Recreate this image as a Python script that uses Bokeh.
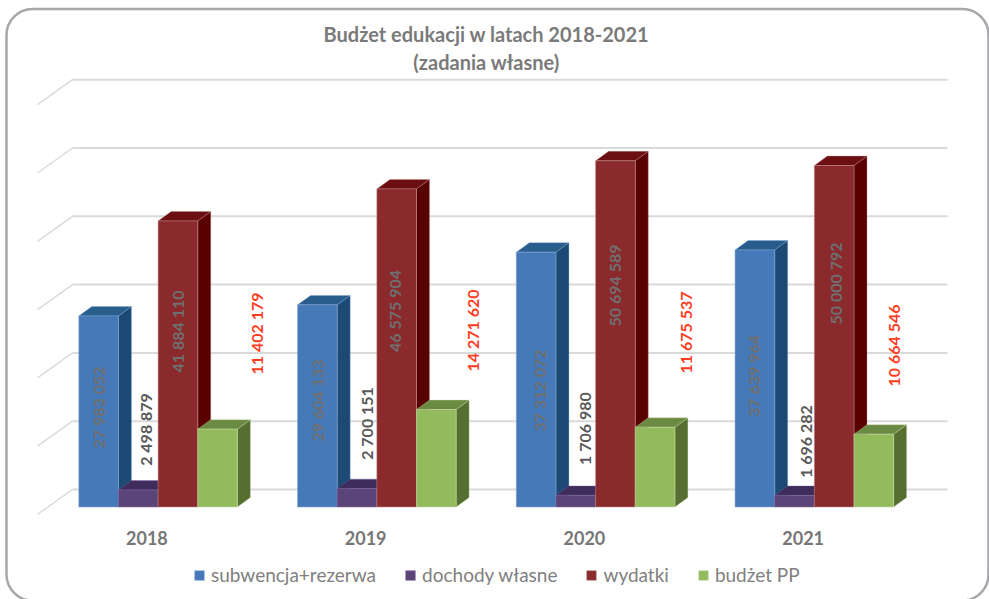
from math import pi
from bokeh.plotting import figure
from bokeh.embed import file_html
from bokeh.resources import INLINE
from bokeh.core.properties import value
from bokeh.models import (BoxAnnotation, ColumnDataSource, Legend,
                          LegendItem, Range1d)

# ---------- data ----------
years = ["2018", "2019", "2020", "2021"]
subwencja = [27983052, 29604133, 37312072, 37639964]
dochody = [2498879, 2700151, 1706980, 1696282]
wydatki = [41884110, 46575904, 50694589, 50000792]
budzet = [11402179, 14271620, 11675537, 10664546]
grid_ticks = [0, 10e6, 20e6, 30e6, 40e6, 50e6, 60e6]
title_lines = ["Budżet edukacji w latach 2018-2021", "(zadania własne)"]
series_names = ["subwencja+rezerwa", "dochody własne", "wydatki", "budżet PP"]

# ---------- style ----------
fronts = ["#4679B8", "#5B4478", "#8B2A2C", "#93BB5E"]
sides = ["#1C4A75", "#33204F", "#590000", "#566E2F"]
tops = ["#285D8C", "#3F2C5C", "#6C0F12", "#6B8A42"]
edges = ["#7FA5D6", "#7B66A0", "#C08A8A", "#C4D8A8"]
label_colors = ["#6F6F6F", "#595959", "#6F6F6F", "#FF3D1F"]

W, H = 989, 599
PX_X = 218.75          # pixels per category
PX_Y = 68.3 / 10e6     # pixels per unit of value
BACK_X, BACK_Y = 72, 489

BAR_W = 39.65 / PX_X
BAR_X0 = 6.3 / PX_X
FLOOR_DROP = 17.5 / PX_Y     # front face baseline below the back wall's zero
DEPTH_X = 13 / PX_X
DEPTH_Y = 9.4 / PX_Y
WALL_X = 35 / PX_X
WALL_Y = 25 / PX_Y
TITLE_X = (486 - BACK_X) / PX_X
TITLE_Y = [(BACK_Y - 33) / PX_Y, (BACK_Y - 61) / PX_Y]
YEAR_Y = (BACK_Y - 537) / PX_Y

# label centres: (category offset, value above the bar floor)
label_x = [[0.119, 1.120, 2.135, 3.115], [0.334, 1.344, 2.341, 3.351],
           [0.480, 1.472, 2.478, 3.488], [0.841, 1.829, 2.802, 3.753]]
label_y = [[14.57e6, 15.59e6, 17.06e6, 19.18e6], [11.35e6, 12.23e6, 11.49e6, 9.59e6],
           [25.7e6, 28.7e6, 32.43e6, 32.72e6], [25.4e6, 25.84e6, 25.55e6, 23.65e6]]

p = figure(
    width=W, height=H, output_backend="svg", toolbar_location=None,
    x_range=Range1d(-BACK_X / PX_X, (W - BACK_X) / PX_X),
    y_range=Range1d((BACK_Y - H) / PX_Y, BACK_Y / PX_Y),
    min_border=0, outline_line_color=None,
    x_axis_type=None, y_axis_type=None, background_fill_color="white",
)
p.grid.visible = False

# card outline
p.add_layout(BoxAnnotation(left=(6 - BACK_X) / PX_X, right=(988 - BACK_X) / PX_X,
                           top=(BACK_Y - 8.5) / PX_Y, bottom=(BACK_Y - 600) / PX_Y,
                           fill_color="white", fill_alpha=0,
                           line_color="#A6A8AC", line_alpha=1, line_width=2.5,
                           border_radius=26, level="underlay"))

# title
p.text([TITLE_X] * 2, TITLE_Y, text=title_lines, text_align="center", text_baseline="middle",
       text_font=value("Lato"), text_font_size="20px", text_font_style="bold",
       text_color="#7A7A7A")

# gridlines: back wall and left wall
back_x = [[0, len(years)] for _ in grid_ticks]
back_y = [[t, t] for t in grid_ticks]
p.multi_line(back_x, back_y, line_color="#DADADA", line_width=2)
wall_x = [[0, -WALL_X] for _ in grid_ticks]
wall_y = [[t, t - WALL_Y] for t in grid_ticks]
p.multi_line(wall_x, wall_y, line_color="#DADADA", line_width=1.5)

# 3-D bars
all_series = [subwencja, dochody, wydatki, budzet]
legend_items = []
for s, values in enumerate(all_series):
    left = [i + BAR_X0 + s * BAR_W for i in range(len(years))]
    right = [l + BAR_W for l in left]
    floor = [-FLOOR_DROP] * len(values)
    top = [v - FLOOR_DROP for v in values]
    side_x = [[r, r + DEPTH_X, r + DEPTH_X, r] for r in right]
    side_y = [[b, b + DEPTH_Y, t + DEPTH_Y, t] for b, t in zip(floor, top)]
    top_x = [[l, l + DEPTH_X, r + DEPTH_X, r] for l, r in zip(left, right)]
    top_y = [[t, t + DEPTH_Y, t + DEPTH_Y, t] for t in top]
    p.patches(side_x, side_y, fill_color=sides[s], line_color=edges[s], line_alpha=0.45, line_width=0.8)
    p.patches(top_x, top_y, fill_color=tops[s], line_color=edges[s], line_alpha=0.45, line_width=0.8)
    front = p.quad(left=left, right=right, bottom=floor, top=top, fill_color=fronts[s],
                   line_color=edges[s], line_alpha=0.55, line_width=1)
    legend_items.append(LegendItem(label=series_names[s], renderers=[front]))

# value labels
for s, values in enumerate(all_series):
    src = ColumnDataSource(dict(
        x=label_x[s],
        y=[v - FLOOR_DROP for v in label_y[s]],
        t=[f"{v:,}".replace(",", " ") for v in values],
    ))
    p.text("x", "y", text="t", source=src, angle=pi / 2, text_align="center",
           text_baseline="middle", text_font=value("Lato"), text_font_size="16px",
           text_font_style="bold", text_color=label_colors[s])

# category labels: at the middle of each category on the front plane
p.text([i + 0.5 - WALL_X for i in range(len(years))], [YEAR_Y] * len(years), text=years,
       text_align="center", text_baseline="middle", text_font=value("Lato"),
       text_font_size="18px", text_font_style="bold", text_color="#767676")

# legend
legend = Legend(items=legend_items, orientation="horizontal", location=(193, 13),
                background_fill_alpha=0, border_line_color=None, padding=0, margin=0,
                glyph_width=12, glyph_height=12, label_standoff=6, spacing=28,
                label_text_font="Lato", label_text_font_size="19px",
                label_text_color="#808080")
p.add_layout(legend, "center")

html = file_html(p, INLINE)
html = html.replace("</head>", "<style>html,body{margin:0;padding:0;overflow:hidden}</style></head>", 1)
open("out.html", "w").write(html)
